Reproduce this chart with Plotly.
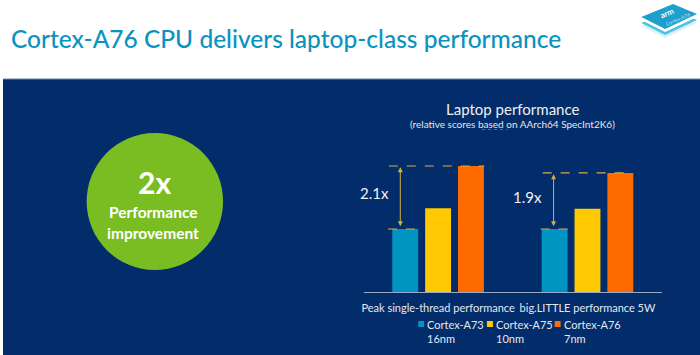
import plotly.graph_objects as go

W, H = 700, 355

categories = ["Peak single-thread performance", "big.LITTLE performance 5W"]
series_names = ["Cortex-A73", "Cortex-A75", "Cortex-A76"]
series_nodes = ["16nm", "10nm", "7nm"]
a73 = [1.00, 1.00]
a75 = [1.33, 1.32]
a76 = [2.00, 1.89]
speedup_labels = ["2.1x", "1.9x"]

colors = ["#0094c3", "#ffc800", "#ff6a00"]
navy = "#032d6a"
gold = "#d3b03e"
font_fam = "Lato, 'Open Sans', sans-serif"


def px(x):
    return x / W


def py(y):
    return 1 - y / H


def path(points):
    s = "M " + " L ".join(f"{px(x):.5f},{py(y):.5f}" for x, y in points) + " Z"
    return s


def text(t, x, y, size, color, xanchor="center", yanchor="middle", weight=None, **kw):
    f = dict(family=font_fam, size=size, color=color)
    if weight:
        f["weight"] = weight
    d = dict(text=t, xref="paper", yref="paper", x=px(x), y=py(y), xanchor=xanchor, yanchor=yanchor,
             showarrow=False, font=f)
    d.update(kw)
    return d


fig = go.Figure()
for name, vals, col in zip(series_names, [a73, a75, a76], colors):
    fig.add_trace(go.Bar(x=categories, y=vals, name=name, marker=dict(color=col, line=dict(width=0)),
                         showlegend=False, hoverinfo="x+y+name"))

shapes = []
annotations = []

# navy background band
shapes.append(dict(type="rect", xref="paper", yref="paper", x0=0, x1=1, y0=0, y1=py(79),
                   fillcolor=navy, line=dict(width=0), layer="below"))
shapes.append(dict(type="line", xref="paper", yref="paper", x0=0, x1=1, y0=py(79), y1=py(79),
                   line=dict(color="#6f86ad", width=1), layer="below"))

# green circle
shapes.append(dict(type="circle", xref="paper", yref="paper", x0=px(84), x1=px(221), y0=py(270), y1=py(133),
                   fillcolor="#7abd23", line=dict(width=0), layer="below"))

# logo (isometric box)
top = [(641, 17), (673, 4), (697, 14), (665, 29)]
for dy, col in [(9, "#d9f1f7"), (6, "#4fc3df"), (3, "#ffffff")]:
    shapes.append(dict(type="path", xref="paper", yref="paper", path=path([(x, y + dy) for x, y in top]),
                       fillcolor=col, line=dict(width=0)))
shapes.append(dict(type="path", xref="paper", yref="paper", path=path(top),
                   fillcolor="#1e9fcd", line=dict(width=0)))
annotations.append(text("<b>arm</b>", 667, 13, 8, "white", textangle=-23))
annotations.append(text("Cortex-A76", 678, 19, 5, "#bfe6f3", textangle=-23))

# dashed guide lines and arrows (data coordinates, offsets relative to category index)
top_x = [(-0.33, 0.31), (-0.30, 0.30)]
low_x = [(-0.335, -0.133), (-0.313, -0.133)]
arrow_x = [-0.253, -0.227]
label_x = [-0.427, -0.40]
for i in range(len(categories)):
    shapes.append(dict(type="line", xref="x", yref="y", x0=i + top_x[i][0], x1=i + top_x[i][1], y0=a76[i], y1=a76[i],
                       line=dict(color=gold, width=1.2, dash="dash")))
    shapes.append(dict(type="line", xref="x", yref="y", x0=i + low_x[i][0], x1=i + low_x[i][1], y0=a73[i], y1=a73[i],
                       line=dict(color=gold, width=1.2, dash="dash")))
    annotations.append(dict(x=i + arrow_x[i], y=a76[i] - 0.02, ax=i + arrow_x[i], ay=a73[i] + 0.02, xref="x", yref="y",
                            axref="x", ayref="y", text="", showarrow=True, arrowside="end+start",
                            arrowhead=2, arrowsize=1, arrowwidth=1, arrowcolor=gold, standoff=0, startstandoff=0))
    annotations.append(dict(x=i + label_x[i], y=(a73[i] + a76[i]) / 2 + 0.07, xref="x", yref="y",
                            text=speedup_labels[i], xanchor="center", yanchor="middle",
                            showarrow=False, font=dict(family=font_fam, size=15, color="#f2f2f2")))

# legend (manual)
leg_x = [417, 486, 554]
for name, node, col, lx in zip(series_names, series_nodes, colors, leg_x):
    shapes.append(dict(type="rect", xref="paper", yref="paper", x0=px(lx), x1=px(lx + 6), y0=py(327), y1=py(321),
                       fillcolor=col, line=dict(width=0)))
    annotations.append(text(f"{name}<br>{node}", lx + 7, 331, 11, "#e3e8f0", xanchor="left", align="left"))

# texts
annotations += [
    text("Cortex-A76 CPU delivers laptop-class performance", 6, 39, 24.5, "#0a93c0", xanchor="left", weight=500),
    text("<b>2x</b>", 152, 182, 30, "white"),
    text("<b>Performance</b>", 151, 212, 15.5, "white"),
    text("<b>improvement</b>", 151, 233, 15.5, "white"),
    text("Laptop performance", 512, 109, 15, "#f0f0f0"),
    text("(relative scores based on AArch64 SpecInt2K6)", 512, 124, 10, "#e6e6e6"),
]
shapes.append(dict(type="line", xref="paper", yref="paper", x0=px(481), x1=px(507), y0=py(129.5), y1=py(129.5),
                   line=dict(color="#d23a3a", width=1, dash="dot")))

fig.update_layout(
    width=W, height=H, margin=dict(l=0, r=0, t=0, b=0),
    paper_bgcolor="white", plot_bgcolor="rgba(0,0,0,0)",
    barmode="group", bargap=0.34, bargroupgap=0.212,
    xaxis=dict(domain=[px(363), px(662)], range=[-0.493, 1.5], type="category",
               showline=True, linecolor="#9aaac6", linewidth=1, showgrid=False, zeroline=False, ticks="",
               ticklabelstandoff=6,
               tickfont=dict(family=font_fam, size=11, color="#e3e8f0"), fixedrange=True),
    yaxis=dict(domain=[py(292), py(292) + 2.2 * 63 / H], range=[0, 2.2], visible=False, fixedrange=True),
    shapes=shapes, annotations=annotations,
    showlegend=False,
)

fig.write_html("out.html", config={"displayModeBar": False},
               post_script="document.body.style.margin='0';document.body.style.overflow='hidden';")
